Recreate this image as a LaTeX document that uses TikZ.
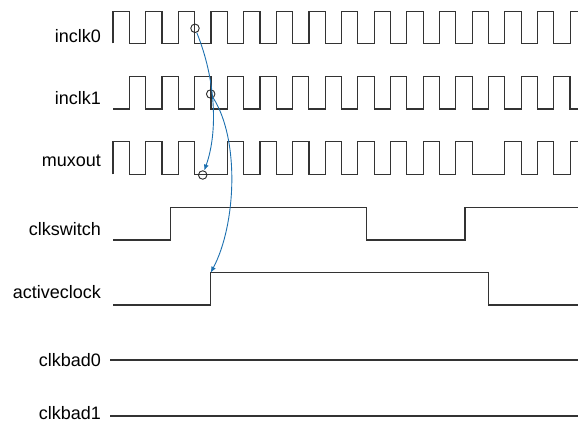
\documentclass[tikz,border=0pt]{standalone}
\usepackage{fontspec}
\setmainfont{Liberation Sans}
\usetikzlibrary{arrows.meta}
\definecolor{flowblue}{RGB}{28,112,176}
\tikzset{
  sig/.style={anchor=base east,inner sep=0pt,font=\fontsize{18}{20}\selectfont},
  wave/.style={line width=1.2pt,black!80,line join=miter},
  probe/.style={circle,draw,black!85,line width=0.9pt,minimum size=8.5pt,inner sep=0pt},
  cause/.style={-{Latex[length=6pt,width=5pt]},flowblue,line width=0.9pt},
}

\begin{document}
\begin{tikzpicture}[x=1pt,y=-1pt]
  \useasboundingbox (0,0) rectangle (579,423);
  \def\hp{16.325}
  % signal names
  \node[sig] (inclk0)      at (101,42)    {inclk0};
  \node[sig] (inclk1)      at (101,104.5) {inclk1};
  \node[sig] (muxout)      at (101,166.5) {muxout};
  \node[sig] (clkswitch)   at (101,235)   {clkswitch};
  \node[sig] (activeclock) at (101,298.5) {activeclock};
  \node[sig] (clkbad0)     at (101,366)   {clkbad0};
  \node[sig] (clkbad1)     at (101,419.5) {clkbad1};
  % the two input clocks
  \draw[wave] (113,43.3) \foreach \k in {0,...,13} {
      -- ++(0,-31.6) -- ++(\hp,0) -- ++(0,31.6) -- ++(\hp,0) }
    -- ++(0,-31.6) -- (578,11.7);
  \draw[wave] (113,109) -- (129.3,109) \foreach \k in {0,...,12} {
      -- ++(0,-32.3) -- ++(\hp,0) -- ++(0,32.3) -- ++(\hp,0) }
    -- ++(0,-32.3) -- ++(\hp,0) -- ++(0,32.3) -- (578,109);
  % muxout: inclk0, then inclk1, then inclk0 again
  \draw[wave] (113,174.3) -- ++(0,-32.6) \foreach \k in {0,1} {
      -- ++(\hp,0) -- ++(0,32.6) -- ++(\hp,0) -- ++(0,-32.6) }
    -- ++(\hp,0) -- ++(0,32.6) -- ++(2*\hp,0)
    \foreach \k in {0,...,7} {
      -- ++(0,-32.6) -- ++(\hp,0) -- ++(0,32.6) -- ++(\hp,0) }
    -- ++(\hp,0)
    \foreach \k in {0,1} {
      -- ++(0,-32.6) -- ++(\hp,0) -- ++(0,32.6) -- ++(\hp,0) }
    -- ++(0,-32.6) -- (578,141.7);
  % control and status lines
  \draw[wave] (113,240) -- (170.7,240) -- (170.7,207.3) -- (366.7,207.3)
    -- (366.7,240) -- (465,240) -- (465,207.3) -- (578,207.3);
  \draw[wave] (113,305) -- (210.7,305) -- (210.7,272.7) -- (488.3,272.7)
    -- (488.3,305) -- (578,305);
  \draw[wave] (110,360) -- (578,360);
  \draw[wave] (110,416) -- (578,416);
  % edges that cause the switch
  \node[probe] (p0) at (195,28.3) {};
  \node[probe] (p1) at (210.7,94) {};
  \node[probe] (pm) at (202.7,175) {};
  \coordinate (act) at (210.7,272.7);
  \draw[cause] (p0) .. controls (216,80) and (218,132) .. (pm);
  \draw[cause] (p1) .. controls (240,140) and (236,225) .. (act);
\end{tikzpicture}
\end{document}
